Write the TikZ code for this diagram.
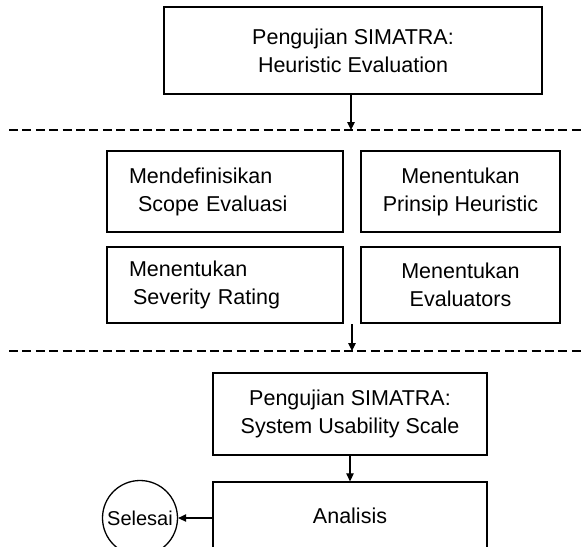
\documentclass[tikz,border=0pt]{standalone}
\usepackage{fontspec}
\setmainfont{Liberation Sans}
\usetikzlibrary{arrows.meta}
\tikzset{
  box/.style={draw=black, line width=1.3pt, rectangle, inner sep=0pt, align=center,
    font=\fontsize{21.5}{28}\selectfont},
  leftbox/.style={box, align=left, inner xsep=22pt, text width=192pt, minimum height=#1},
  endcircle/.style={draw=black, line width=1.3pt, circle, inner sep=0pt, minimum size=75pt,
    font=\fontsize{20}{24}\selectfont},
  sep/.style={line width=1.6pt, dash pattern=on 9pt off 4.4pt},
  arr/.style={line width=1.2pt, -{Triangle[length=8pt,width=7.5pt]}}
}
\begin{document}
\begin{tikzpicture}[x=1pt,y=-1pt]
\useasboundingbox (0,0) rectangle (583,546);
\clip (0,0) rectangle (583,546);
\node[box, minimum width=378pt, minimum height=87pt] (top) at (353,50.5)
  {Pengujian SIMATRA:\\Heuristic Evaluation};
\coordinate (d1) at (351,130);
\coordinate (d1l) at (9,130);
\coordinate (d1r) at (583,130);
\draw[sep] (d1l) -- (d1r);
\draw[arr] (top.south -| d1) -- (d1);

\node[leftbox=81pt] (scope) at (225,191.5)
  {Mendefinisikan\\\hspace*{9pt}Scope Evaluasi};
\node[box, minimum width=199pt, minimum height=81pt] (prinsip) at (460.5,191.5)
  {Menentukan\\Prinsip Heuristic};
\node[leftbox=76pt] (severity) at (225,285)
  {Menentukan\\\hspace*{4pt}Severity Rating};
\node[box, minimum width=199pt, minimum height=76pt] (evaluators) at (460.5,285)
  {Menentukan\\Evaluators};

\coordinate (a2s) at (352,324);
\coordinate (d2) at (352,351);
\coordinate (d2l) at (9,351);
\coordinate (d2r) at (583,351);
\draw[sep] (d2l) -- (d2r);
\draw[arr] (a2s) -- (d2);

\node[box, minimum width=274pt, minimum height=82pt] (sus) at (350,414)
  {Pengujian SIMATRA:\\System Usability Scale};
\node[box, minimum width=274pt, minimum height=68pt] (ana) at (350,516) {Analisis};
\node[endcircle] (sel) at (140,518) {Selesai};
\draw[arr] (sus.south) -- (ana.north);
\draw[arr] (ana.west |- sel.east) -- (sel.east);
\end{tikzpicture}
\end{document}
